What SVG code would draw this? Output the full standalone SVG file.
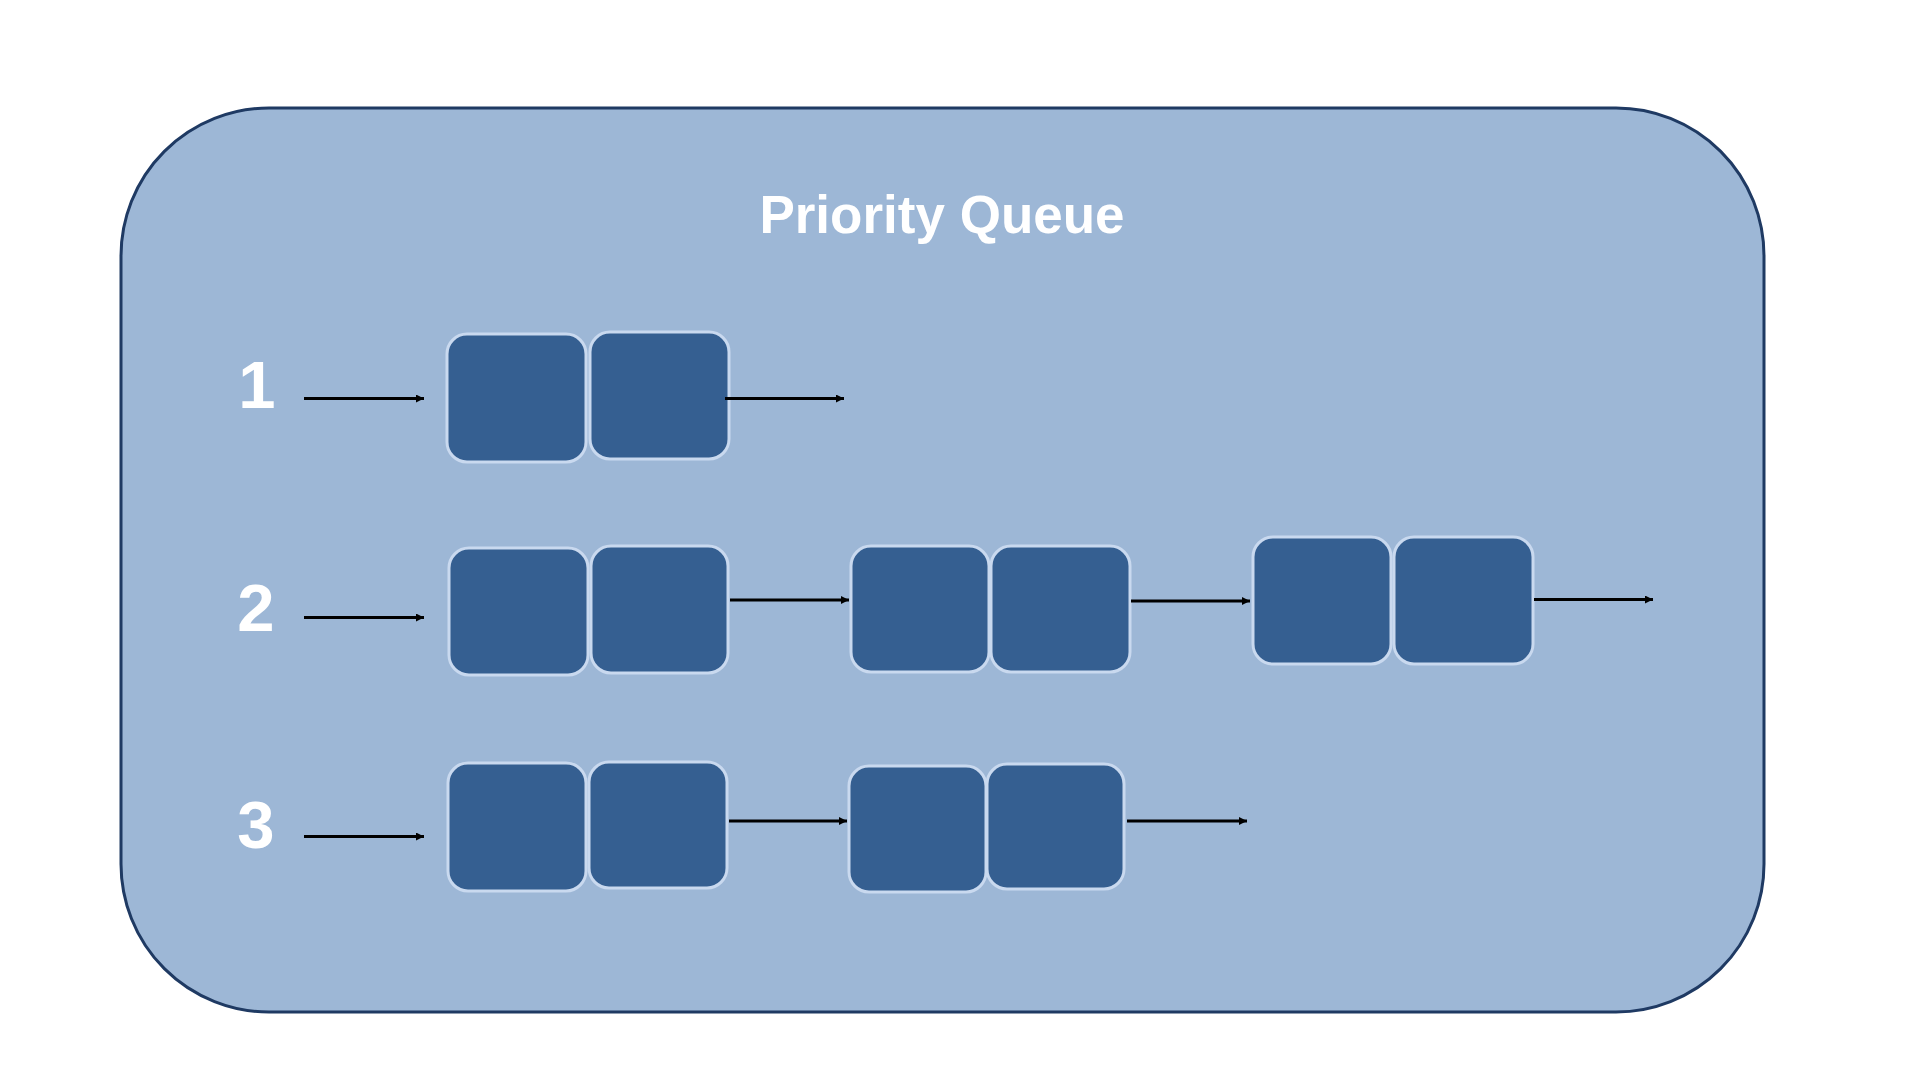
<svg xmlns="http://www.w3.org/2000/svg" width="1920" height="1080" viewBox="0 0 1920 1080">
<style>
.frame{fill:#9DB7D6;stroke:#1F3A63;stroke-width:3}
.cell{fill:#355F91;stroke:#C9D9EF;stroke-width:3}
.title{font-family:"Liberation Sans",Arial,sans-serif;font-weight:bold;font-size:53px;fill:#FFFFFF}
.num{font-family:"Liberation Sans",Arial,sans-serif;font-weight:bold;font-size:67px;fill:#FFFFFF}
.conn line{stroke:#000000;stroke-width:2.8;marker-end:url(#arr)}
</style>
<defs>
<marker id="arr" viewBox="0 0 10 10" refX="10" refY="5" markerWidth="9" markerHeight="8" markerUnits="userSpaceOnUse" orient="auto">
<path d="M0,0 L10,5 L0,10 Z" fill="#000000"/>
</marker>
</defs>
<rect x="0" y="0" width="1920" height="1080" fill="#FFFFFF"/>
<g id="frame">
<rect class="frame" x="121" y="108" width="1643" height="904" rx="148" ry="148"/>
<text class="title" x="942" y="233" text-anchor="middle">Priority Queue</text>
</g>
<g id="label-1"><text class="num" x="257" y="408" text-anchor="middle">1</text></g>
<g id="label-2"><text class="num" x="256" y="631" text-anchor="middle">2</text></g>
<g id="label-3"><text class="num" x="256" y="848" text-anchor="middle">3</text></g>
<g id="row1">
<rect id="r1a" class="cell" x="447" y="334" width="139" height="128" rx="20"/>
<rect id="r1b" class="cell" x="590" y="332" width="139" height="127" rx="20"/>
</g>
<g id="row2">
<rect id="r2a" class="cell" x="449" y="548" width="139" height="127" rx="20"/>
<rect id="r2b" class="cell" x="591" y="546" width="137" height="127" rx="20"/>
<rect id="r2c" class="cell" x="851" y="546" width="138" height="126" rx="20"/>
<rect id="r2d" class="cell" x="991" y="546" width="139" height="126" rx="20"/>
<rect id="r2e" class="cell" x="1253" y="537" width="138" height="127" rx="20"/>
<rect id="r2f" class="cell" x="1394" y="537" width="139" height="127" rx="20"/>
</g>
<g id="row3">
<rect id="r3a" class="cell" x="448" y="763" width="138" height="128" rx="20"/>
<rect id="r3b" class="cell" x="589" y="762" width="138" height="126" rx="20"/>
<rect id="r3c" class="cell" x="849" y="766" width="137" height="126" rx="20"/>
<rect id="r3d" class="cell" x="987" y="764" width="137" height="125" rx="20"/>
</g>
<g id="connectors" class="conn">
<line x1="304" y1="398.5" x2="424" y2="398.5"/>
<line x1="725" y1="398.5" x2="844" y2="398.5"/>
<line x1="304" y1="617.5" x2="424" y2="617.5"/>
<line x1="730" y1="600" x2="849" y2="600"/>
<line x1="1131" y1="601" x2="1250" y2="601"/>
<line x1="1534" y1="599.5" x2="1653" y2="599.5"/>
<line x1="304" y1="836.5" x2="424" y2="836.5"/>
<line x1="729" y1="821" x2="847" y2="821"/>
<line x1="1127" y1="821" x2="1247" y2="821"/>
</g>
</svg>
